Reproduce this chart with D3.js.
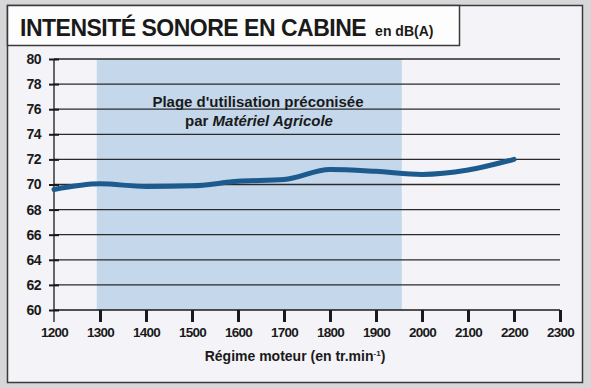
<!DOCTYPE html>
<html>
<head>
<meta charset="utf-8">
<script src="https://cdn.jsdelivr.net/npm/d3@7"></script>
<style>
  body { margin: 0; background: #d7d7d9; }
  svg { display: block; font-family: "Liberation Sans", Arial, sans-serif; }
</style>
</head>
<body>
<div id="chart"></div>
<script>
const rpm = [1200, 1300, 1400, 1500, 1600, 1700, 1800, 1900, 2000, 2100, 2200];
const noise = [69.6, 70.05, 69.85, 69.9, 70.25, 70.4, 71.2, 71.05, 70.8, 71.15, 72.0];
const xTicks = [1200, 1300, 1400, 1500, 1600, 1700, 1800, 1900, 2000, 2100, 2200, 2300];
const yTicks = [60, 62, 64, 66, 68, 70, 72, 74, 76, 78, 80];
const usageRange = [1293, 1956];

const width = 591;
const height = 388;

const svg = d3.select("#chart")
  .append("svg")
  .attr("width", width)
  .attr("height", height);

// panel
svg.append("rect")
  .attr("x", 7.5).attr("y", 5.5)
  .attr("width", 575).attr("height", 377)
  .attr("fill", "#f4f3f7")
  .attr("stroke", "#3a3a3a")
  .attr("stroke-width", 1.5);

// title box
svg.append("rect")
  .attr("x", 7.5).attr("y", 5.5)
  .attr("width", 452).attr("height", 40)
  .attr("fill", "#fdfdfd")
  .attr("stroke", "#3a3a3a")
  .attr("stroke-width", 1.5);

const title = svg.append("text")
  .attr("x", 20)
  .attr("y", 36)
  .attr("fill", "#1a1a1a")
  .style("font-weight", "bold");
title.append("tspan")
  .style("font-size", "23px")
  .attr("letter-spacing", "-0.5")
  .text("INTENSITÉ SONORE EN CABINE");
title.append("tspan")
  .attr("dx", 9)
  .style("font-size", "14px")
  .text("en dB(A)");

const x = d3.scaleLinear().domain([1200, 2300]).range([54, 560]);
const y = d3.scaleLinear().domain([60, 80]).range([310, 59]);

// recommended range
svg.append("rect")
  .attr("x", x(usageRange[0]))
  .attr("y", y(80))
  .attr("width", x(usageRange[1]) - x(usageRange[0]))
  .attr("height", y(60) - y(80))
  .attr("fill", "#c4d7eb");

// grid
svg.append("g")
  .selectAll("line")
  .data(yTicks.filter(d => d > 60))
  .join("line")
  .attr("x1", x(1200))
  .attr("x2", x(2300))
  .attr("y1", d => y(d))
  .attr("y2", d => y(d))
  .attr("stroke", "#2a2a2a")
  .attr("stroke-width", 1.3);

// annotation
svg.append("text")
  .attr("x", 258)
  .attr("y", 107)
  .attr("text-anchor", "middle")
  .style("font-size", "15px")
  .style("font-weight", "bold")
  .attr("fill", "#1a1a1a")
  .text("Plage d'utilisation préconisée");

const note2 = svg.append("text")
  .attr("x", 259)
  .attr("y", 126)
  .attr("text-anchor", "middle")
  .style("font-size", "15px")
  .style("font-weight", "bold")
  .attr("fill", "#1a1a1a");
note2.append("tspan").text("par ");
note2.append("tspan").style("font-style", "italic").text("Matériel Agricole");

// y axis
const yAxis = svg.append("g")
  .attr("transform", `translate(${x(1200)},0)`)
  .call(d3.axisLeft(y).tickValues(yTicks).tickSize(5).tickPadding(8));
yAxis.select(".domain").remove();
yAxis.selectAll(".tick line")
  .attr("x1", -5).attr("x2", 5)
  .attr("stroke", "#1a1a1a")
  .attr("stroke-width", 2);
yAxis.selectAll(".tick text")
  .attr("fill", "#1a1a1a")
  .style("font-size", "14px")
  .style("font-weight", "bold")
  .attr("letter-spacing", "-0.5");

svg.append("line")
  .attr("x1", x(1200)).attr("x2", x(1200))
  .attr("y1", y(80)).attr("y2", y(60) + 12)
  .attr("stroke", "#1a1a1a")
  .attr("stroke-width", 1.3);

// x axis
const xAxis = svg.append("g")
  .attr("transform", `translate(0,${y(60)})`)
  .call(d3.axisBottom(x).tickValues(xTicks).tickFormat(d3.format("d")).tickSize(12).tickPadding(5));
xAxis.select(".domain")
  .attr("d", `M${x(1200)},0H${x(2300)}`)
  .attr("stroke", "#1a1a1a")
  .attr("stroke-width", 1.5);
xAxis.selectAll(".tick line")
  .attr("stroke", "#1a1a1a")
  .attr("stroke-width", d => d === 1200 ? 0 : 3);
xAxis.selectAll(".tick text")
  .attr("fill", "#1a1a1a")
  .style("font-size", "13.5px")
  .style("font-weight", "bold")
  .attr("letter-spacing", "-0.8");

const xTitle = svg.append("text")
  .attr("x", 295)
  .attr("y", 361)
  .attr("text-anchor", "middle")
  .style("font-size", "14px")
  .style("font-weight", "bold")
  .attr("fill", "#1a1a1a");
xTitle.append("tspan").text("Régime moteur (en tr.min");
xTitle.append("tspan").attr("dy", -5).style("font-size", "8px").text("-1");
xTitle.append("tspan").attr("dy", 5).text(")");

// line
const line = d3.line()
  .x((d, i) => x(rpm[i]))
  .y(d => y(d))
  .curve(d3.curveMonotoneX);

svg.append("path")
  .datum(noise)
  .attr("d", line)
  .attr("fill", "none")
  .attr("stroke", "#1d5a8e")
  .attr("stroke-width", 5)
  .attr("stroke-linecap", "round");
</script>
</body>
</html>
